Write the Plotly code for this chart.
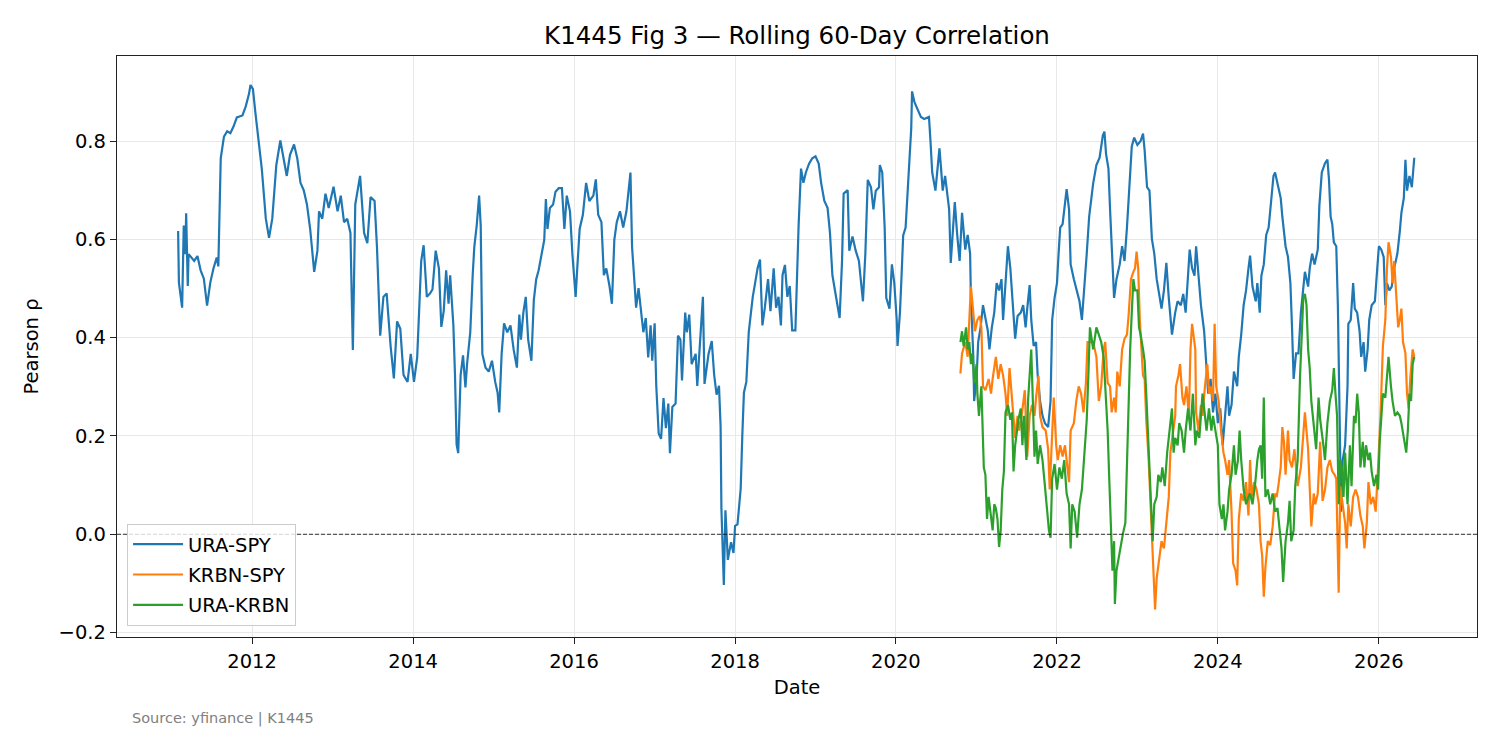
import numpy as np
import pandas as pd
import plotly.graph_objects as go

# ---------------- data (decimal year, correlation) ----------------
ura_spy_t = [
    2011.08, 2011.09, 2011.13, 2011.15, 2011.17, 2011.18, 2011.20, 2011.21, 2011.28, 2011.32,
    2011.36, 2011.40, 2011.44, 2011.48, 2011.52, 2011.56, 2011.58, 2011.61, 2011.65, 2011.69,
    2011.73, 2011.77, 2011.81, 2011.88, 2011.92, 2011.96, 2011.98, 2012.01, 2012.04, 2012.08,
    2012.12, 2012.17, 2012.21, 2012.25, 2012.30, 2012.35, 2012.39, 2012.43, 2012.47, 2012.52,
    2012.56, 2012.60, 2012.64, 2012.68, 2012.72, 2012.77, 2012.81, 2012.83, 2012.87, 2012.91,
    2012.95, 2013.01, 2013.06, 2013.10, 2013.14, 2013.18, 2013.22, 2013.25, 2013.28, 2013.32,
    2013.34, 2013.39, 2013.43, 2013.47, 2013.52, 2013.55, 2013.59, 2013.63, 2013.67, 2013.72,
    2013.76, 2013.80, 2013.84, 2013.88, 2013.93, 2013.97, 2014.01, 2014.05, 2014.07, 2014.10,
    2014.13, 2014.17, 2014.21, 2014.24, 2014.28, 2014.32, 2014.35, 2014.38, 2014.41, 2014.44,
    2014.46, 2014.50, 2014.52, 2014.54, 2014.56, 2014.59, 2014.62, 2014.65, 2014.67, 2014.71,
    2014.74, 2014.76, 2014.79, 2014.82, 2014.84, 2014.86, 2014.90, 2014.94, 2014.98, 2015.02,
    2015.05, 2015.07, 2015.10, 2015.13, 2015.17, 2015.21, 2015.25, 2015.29, 2015.32, 2015.34,
    2015.37, 2015.40, 2015.43, 2015.47, 2015.50, 2015.53, 2015.56, 2015.60, 2015.63, 2015.65,
    2015.67, 2015.70, 2015.74, 2015.77, 2015.81, 2015.85, 2015.88, 2015.91, 2015.95, 2015.98,
    2016.02, 2016.04, 2016.07, 2016.11, 2016.15, 2016.19, 2016.24, 2016.27, 2016.30, 2016.34,
    2016.37, 2016.40, 2016.44, 2016.47, 2016.50, 2016.53, 2016.57, 2016.61, 2016.65, 2016.70,
    2016.72, 2016.75, 2016.77, 2016.80, 2016.83, 2016.86, 2016.89, 2016.92, 2016.95, 2016.97,
    2017.00, 2017.02, 2017.05, 2017.08, 2017.11, 2017.14, 2017.17, 2017.19, 2017.22, 2017.26,
    2017.29, 2017.32, 2017.34, 2017.38, 2017.40, 2017.43, 2017.46, 2017.51, 2017.53, 2017.56,
    2017.60, 2017.62, 2017.67, 2017.71, 2017.74, 2017.77, 2017.80, 2017.82, 2017.83, 2017.86,
    2017.88, 2017.91, 2017.95, 2017.98, 2018.00, 2018.03, 2018.05, 2018.07, 2018.09, 2018.11,
    2018.14, 2018.17, 2018.19, 2018.22, 2018.25, 2018.28, 2018.31, 2018.34, 2018.37, 2018.41,
    2018.44, 2018.48, 2018.51, 2018.54, 2018.57, 2018.59, 2018.62, 2018.65, 2018.68, 2018.71,
    2018.75, 2018.77, 2018.79, 2018.82, 2018.85, 2018.88, 2018.92, 2018.96, 2019.00, 2019.04,
    2019.07, 2019.11, 2019.15, 2019.18, 2019.21, 2019.24, 2019.27, 2019.30, 2019.33, 2019.35,
    2019.40, 2019.42, 2019.46, 2019.50, 2019.54, 2019.59, 2019.62, 2019.65, 2019.69, 2019.72,
    2019.75, 2019.79, 2019.80, 2019.83, 2019.86, 2019.88, 2019.92, 2019.95, 2019.98, 2020.01,
    2020.02, 2020.05, 2020.07, 2020.09, 2020.12, 2020.14, 2020.16, 2020.19, 2020.20, 2020.23,
    2020.27, 2020.31, 2020.35, 2020.41, 2020.43, 2020.45, 2020.49, 2020.52, 2020.54, 2020.56,
    2020.58, 2020.61, 2020.64, 2020.66, 2020.68, 2020.71, 2020.73, 2020.76, 2020.79, 2020.82,
    2020.86, 2020.89, 2020.92, 2020.93, 2020.96, 2020.97, 2021.00, 2021.02, 2021.05, 2021.08,
    2021.11, 2021.14, 2021.16, 2021.19, 2021.22, 2021.25, 2021.28, 2021.31, 2021.33, 2021.36,
    2021.39, 2021.42, 2021.45, 2021.48, 2021.51, 2021.55, 2021.58, 2021.61, 2021.63, 2021.66,
    2021.68, 2021.71, 2021.74, 2021.76, 2021.79, 2021.82, 2021.85, 2021.89, 2021.92, 2021.94,
    2021.97, 2022.00, 2022.02, 2022.04, 2022.07, 2022.10, 2022.12, 2022.15, 2022.17, 2022.21,
    2022.25, 2022.28, 2022.31, 2022.34, 2022.37, 2022.40, 2022.45, 2022.49, 2022.53, 2022.57,
    2022.59, 2022.61, 2022.64, 2022.66, 2022.68, 2022.71, 2022.74, 2022.78, 2022.81, 2022.84,
    2022.87, 2022.90, 2022.93, 2022.96, 2023.00, 2023.04, 2023.07, 2023.09, 2023.12, 2023.15,
    2023.18, 2023.21, 2023.24, 2023.27, 2023.30, 2023.33, 2023.36, 2023.39, 2023.41, 2023.43,
    2023.47, 2023.50, 2023.54, 2023.57, 2023.60, 2023.62, 2023.65, 2023.68, 2023.71, 2023.73,
    2023.76, 2023.79, 2023.83, 2023.86, 2023.88, 2023.91, 2023.94, 2023.97, 2024.00, 2024.03,
    2024.06, 2024.09, 2024.12, 2024.14, 2024.17, 2024.20, 2024.24, 2024.26, 2024.29, 2024.32,
    2024.35, 2024.38, 2024.40, 2024.43, 2024.47, 2024.49, 2024.52, 2024.54, 2024.57, 2024.60,
    2024.63, 2024.66, 2024.69, 2024.71, 2024.75, 2024.78, 2024.80, 2024.84, 2024.87, 2024.90,
    2024.92, 2024.94, 2024.97, 2025.00, 2025.03, 2025.06, 2025.08, 2025.12, 2025.14, 2025.17,
    2025.20, 2025.24, 2025.26, 2025.29, 2025.33, 2025.36, 2025.38, 2025.40, 2025.42, 2025.44,
    2025.47, 2025.49, 2025.51, 2025.53, 2025.55, 2025.58, 2025.61, 2025.62, 2025.65, 2025.68,
    2025.70, 2025.73, 2025.76, 2025.78, 2025.81, 2025.83, 2025.86, 2025.88, 2025.91, 2025.95,
    2025.97, 2026.00, 2026.03, 2026.06, 2026.08, 2026.10, 2026.13, 2026.16, 2026.19, 2026.23,
    2026.26, 2026.28, 2026.31, 2026.33, 2026.35, 2026.38, 2026.41, 2026.44,
]
ura_spy_v = [
    0.617, 0.512, 0.461, 0.628, 0.570, 0.653, 0.505, 0.570, 0.556, 0.566,
    0.537, 0.520, 0.465, 0.512, 0.541, 0.563, 0.545, 0.765, 0.809, 0.820,
    0.816, 0.830, 0.848, 0.852, 0.870, 0.895, 0.914, 0.906, 0.859, 0.801,
    0.744, 0.642, 0.603, 0.642, 0.751, 0.801, 0.765, 0.729, 0.772, 0.793,
    0.765, 0.715, 0.700, 0.671, 0.621, 0.534, 0.577, 0.657, 0.642, 0.693,
    0.664, 0.707, 0.657, 0.689, 0.635, 0.642, 0.613, 0.375, 0.671, 0.707,
    0.729, 0.613, 0.592, 0.686, 0.678, 0.584, 0.404, 0.483, 0.490, 0.382,
    0.317, 0.433, 0.418, 0.324, 0.310, 0.367, 0.310, 0.360, 0.454, 0.556,
    0.588, 0.483, 0.490, 0.498, 0.577, 0.541, 0.422, 0.454, 0.537, 0.469,
    0.527, 0.425, 0.324, 0.183, 0.165, 0.324, 0.364, 0.299, 0.346, 0.411,
    0.527, 0.584, 0.628, 0.689, 0.628, 0.367, 0.339, 0.331, 0.353, 0.310,
    0.288, 0.248, 0.367, 0.429, 0.411, 0.425, 0.375, 0.339, 0.447, 0.396,
    0.451, 0.483, 0.396, 0.353, 0.476, 0.519, 0.537, 0.577, 0.599, 0.682,
    0.621, 0.664, 0.671, 0.697, 0.704, 0.704, 0.621, 0.689, 0.657, 0.570,
    0.483, 0.541, 0.621, 0.650, 0.715, 0.678, 0.689, 0.722, 0.650, 0.635,
    0.527, 0.541, 0.505, 0.469, 0.599, 0.635, 0.657, 0.624, 0.657, 0.736,
    0.584, 0.512, 0.461, 0.501, 0.454, 0.411, 0.440, 0.360, 0.425, 0.353,
    0.429, 0.302, 0.205, 0.194, 0.277, 0.216, 0.266, 0.165, 0.259, 0.266,
    0.404, 0.396, 0.313, 0.451, 0.411, 0.447, 0.346, 0.367, 0.302, 0.382,
    0.483, 0.306, 0.367, 0.393, 0.324, 0.284, 0.302, 0.219, 0.053, -0.103,
    0.049, -0.052, -0.016, -0.038, 0.017, 0.020, 0.064, 0.093, 0.201, 0.288,
    0.310, 0.411, 0.440, 0.483, 0.512, 0.541, 0.559, 0.425, 0.461, 0.519,
    0.454, 0.541, 0.461, 0.483, 0.425, 0.527, 0.548, 0.483, 0.505, 0.415,
    0.415, 0.534, 0.628, 0.744, 0.715, 0.736, 0.754, 0.765, 0.769, 0.754,
    0.715, 0.678, 0.664, 0.613, 0.527, 0.498, 0.469, 0.440, 0.556, 0.693,
    0.700, 0.577, 0.606, 0.577, 0.556, 0.474, 0.571, 0.721, 0.706, 0.661,
    0.699, 0.706, 0.751, 0.736, 0.624, 0.481, 0.459, 0.549, 0.511, 0.436,
    0.383, 0.451, 0.526, 0.608, 0.624, 0.676, 0.744, 0.826, 0.901, 0.879,
    0.864, 0.849, 0.845, 0.849, 0.796, 0.736, 0.699, 0.751, 0.785, 0.744,
    0.699, 0.729, 0.684, 0.661, 0.552, 0.639, 0.676, 0.609, 0.556, 0.654,
    0.579, 0.609, 0.571, 0.481, 0.361, 0.271, 0.316, 0.391, 0.421, 0.466,
    0.436, 0.414, 0.376, 0.421, 0.451, 0.511, 0.496, 0.519, 0.436, 0.519,
    0.586, 0.541, 0.459, 0.398, 0.444, 0.451, 0.466, 0.421, 0.459, 0.507,
    0.436, 0.383, 0.391, 0.323, 0.271, 0.241, 0.226, 0.218, 0.271, 0.436,
    0.481, 0.511, 0.571, 0.624, 0.631, 0.676, 0.702, 0.661, 0.549, 0.519,
    0.496, 0.474, 0.436, 0.496, 0.571, 0.646, 0.714, 0.751, 0.766, 0.811,
    0.819, 0.774, 0.744, 0.661, 0.579, 0.481, 0.519, 0.549, 0.586, 0.556,
    0.624, 0.714, 0.789, 0.807, 0.792, 0.800, 0.815, 0.781, 0.706, 0.699,
    0.601, 0.571, 0.519, 0.489, 0.459, 0.496, 0.552, 0.481, 0.436, 0.406,
    0.451, 0.474, 0.466, 0.489, 0.451, 0.496, 0.579, 0.541, 0.526, 0.586,
    0.526, 0.466, 0.413, 0.346, 0.286, 0.316, 0.248, 0.286, 0.226, 0.256,
    0.181, 0.241, 0.301, 0.241, 0.263, 0.331, 0.301, 0.361, 0.406, 0.466,
    0.496, 0.541, 0.567, 0.504, 0.474, 0.511, 0.451, 0.526, 0.549, 0.609,
    0.624, 0.676, 0.729, 0.736, 0.706, 0.684, 0.646, 0.586, 0.564, 0.511,
    0.421, 0.316, 0.368, 0.368, 0.451, 0.496, 0.534, 0.504, 0.541, 0.571,
    0.549, 0.579, 0.669, 0.736, 0.755, 0.762, 0.721, 0.646, 0.631, 0.594,
    0.586, 0.466, 0.286, 0.046, 0.151, 0.181, 0.301, 0.428, 0.436, 0.511,
    0.459, 0.451, 0.413, 0.361, 0.391, 0.331, 0.376, 0.436, 0.466, 0.474,
    0.519, 0.586, 0.579, 0.564, 0.466, 0.511, 0.496, 0.504, 0.541, 0.571,
    0.616, 0.654, 0.684, 0.762, 0.699, 0.729, 0.706, 0.766,
]

krbn_spy_t = [
    2020.80, 2020.82, 2020.86, 2020.89, 2020.91, 2020.93, 2020.96, 2020.98, 2021.01, 2021.04,
    2021.06, 2021.08, 2021.11, 2021.15, 2021.18, 2021.20, 2021.24, 2021.27, 2021.30, 2021.33,
    2021.36, 2021.38, 2021.41, 2021.43, 2021.45, 2021.48, 2021.51, 2021.53, 2021.56, 2021.60,
    2021.63, 2021.66, 2021.69, 2021.72, 2021.74, 2021.77, 2021.79, 2021.82, 2021.86, 2021.89,
    2021.91, 2021.94, 2021.96, 2021.99, 2022.01, 2022.04, 2022.07, 2022.10, 2022.13, 2022.15,
    2022.17, 2022.21, 2022.24, 2022.27, 2022.30, 2022.33, 2022.36, 2022.38, 2022.45, 2022.49,
    2022.52, 2022.55, 2022.58, 2022.60, 2022.63, 2022.66, 2022.68, 2022.71, 2022.73, 2022.75,
    2022.78, 2022.81, 2022.84, 2022.87, 2022.89, 2022.92, 2022.95, 2022.97, 2022.99, 2023.01,
    2023.03, 2023.05, 2023.07, 2023.09, 2023.11, 2023.14, 2023.16, 2023.18, 2023.20, 2023.22,
    2023.24, 2023.27, 2023.30, 2023.33, 2023.36, 2023.39, 2023.41, 2023.44, 2023.47, 2023.48,
    2023.51, 2023.53, 2023.56, 2023.58, 2023.61, 2023.64, 2023.66, 2023.68, 2023.72, 2023.73,
    2023.76, 2023.79, 2023.81, 2023.84, 2023.87, 2023.89, 2023.91, 2023.94, 2023.96, 2023.98,
    2024.01, 2024.04, 2024.07, 2024.09, 2024.12, 2024.14, 2024.17, 2024.19, 2024.22, 2024.24,
    2024.26, 2024.29, 2024.32, 2024.35, 2024.38, 2024.40, 2024.42, 2024.45, 2024.48, 2024.51,
    2024.53, 2024.55, 2024.57, 2024.59, 2024.62, 2024.65, 2024.68, 2024.71, 2024.73, 2024.75,
    2024.78, 2024.80, 2024.82, 2024.84, 2024.87, 2024.89, 2024.92, 2024.95, 2024.97, 2024.99,
    2025.03, 2025.06, 2025.08, 2025.12, 2025.14, 2025.16, 2025.19, 2025.21, 2025.24, 2025.27,
    2025.30, 2025.33, 2025.36, 2025.39, 2025.42, 2025.45, 2025.47, 2025.50, 2025.52, 2025.55,
    2025.58, 2025.60, 2025.62, 2025.65, 2025.68, 2025.71, 2025.74, 2025.77, 2025.80, 2025.82,
    2025.85, 2025.87, 2025.90, 2025.93, 2025.96, 2025.99, 2026.02, 2026.05, 2026.08, 2026.10,
    2026.12, 2026.15, 2026.17, 2026.19, 2026.21, 2026.24, 2026.26, 2026.28, 2026.30, 2026.33,
    2026.35, 2026.37, 2026.39, 2026.42, 2026.44,
]
krbn_spy_v = [
    0.327, 0.368, 0.391, 0.361, 0.436, 0.504, 0.451, 0.413, 0.436, 0.444,
    0.421, 0.301, 0.293, 0.316, 0.286, 0.316, 0.361, 0.316, 0.346, 0.323,
    0.286, 0.241, 0.338, 0.301, 0.248, 0.196, 0.241, 0.211, 0.241, 0.293,
    0.158, 0.241, 0.263, 0.241, 0.278, 0.323, 0.241, 0.218, 0.211, 0.173,
    0.091, 0.188, 0.278, 0.181, 0.151, 0.181, 0.158, 0.181, 0.136, 0.106,
    0.211, 0.226, 0.271, 0.301, 0.286, 0.248, 0.308, 0.391, 0.391, 0.361,
    0.271, 0.301, 0.376, 0.391, 0.308, 0.301, 0.248, 0.278, 0.248, 0.331,
    0.301, 0.376, 0.398, 0.406, 0.444, 0.519, 0.534, 0.541, 0.575, 0.541,
    0.436, 0.376, 0.323, 0.316, 0.233, 0.151, 0.076, 0.016, -0.074, -0.153,
    -0.089, -0.051, -0.014, -0.029, 0.031, 0.076, 0.166, 0.203, 0.241, 0.301,
    0.323, 0.346, 0.278, 0.263, 0.301, 0.241, 0.376, 0.428, 0.376, 0.248,
    0.211, 0.263, 0.241, 0.301, 0.346, 0.286, 0.301, 0.271, 0.428, 0.301,
    0.271, 0.211, 0.166, 0.151, 0.121, 0.151, 0.046, -0.059, -0.074, -0.104,
    0.031, 0.083, 0.068, 0.106, 0.038, 0.151, 0.076, 0.106, 0.091, 0.061,
    -0.014, -0.044, -0.127, -0.067, -0.014, -0.022, 0.016, 0.083, 0.076, 0.098,
    0.136, 0.218, 0.188, 0.121, 0.211, 0.151, 0.136, 0.173, 0.136, 0.098,
    0.136, 0.211, 0.248, 0.173, 0.091, 0.016, 0.083, 0.061, 0.083, 0.188,
    0.068, 0.091, 0.136, 0.151, 0.128, 0.121, 0.113, -0.119, 0.098, 0.061,
    0.023, -0.029, 0.061, 0.016, 0.076, 0.091, 0.076, 0.038, 0.016, -0.029,
    0.023, 0.106, 0.061, 0.076, 0.046, 0.136, 0.241, 0.383, 0.436, 0.541,
    0.594, 0.564, 0.511, 0.556, 0.496, 0.421, 0.436, 0.459, 0.391, 0.368,
    0.286, 0.256, 0.316, 0.376, 0.361,
]

ura_krbn_t = [
    2020.80, 2020.82, 2020.84, 2020.87, 2020.89, 2020.91, 2020.93, 2020.95, 2020.97, 2021.00,
    2021.01, 2021.03, 2021.06, 2021.07, 2021.09, 2021.11, 2021.13, 2021.15, 2021.18, 2021.20,
    2021.22, 2021.24, 2021.26, 2021.28, 2021.30, 2021.32, 2021.34, 2021.36, 2021.39, 2021.42,
    2021.44, 2021.46, 2021.48, 2021.52, 2021.55, 2021.57, 2021.59, 2021.62, 2021.64, 2021.66,
    2021.68, 2021.70, 2021.72, 2021.74, 2021.76, 2021.79, 2021.82, 2021.85, 2021.88, 2021.90,
    2021.92, 2021.94, 2021.97, 2022.00, 2022.03, 2022.06, 2022.09, 2022.12, 2022.15, 2022.17,
    2022.19, 2022.22, 2022.25, 2022.28, 2022.31, 2022.34, 2022.37, 2022.39, 2022.41, 2022.45,
    2022.49, 2022.52, 2022.55, 2022.58, 2022.60, 2022.63, 2022.65, 2022.67, 2022.69, 2022.71,
    2022.72, 2022.74, 2022.77, 2022.80, 2022.82, 2022.85, 2022.87, 2022.89, 2022.91, 2022.93,
    2022.95, 2022.97, 2023.00, 2023.02, 2023.04, 2023.07, 2023.09, 2023.11, 2023.13, 2023.15,
    2023.17, 2023.19, 2023.21, 2023.24, 2023.26, 2023.29, 2023.31, 2023.34, 2023.37, 2023.39,
    2023.43, 2023.45, 2023.47, 2023.50, 2023.52, 2023.55, 2023.58, 2023.60, 2023.63, 2023.66,
    2023.69, 2023.72, 2023.74, 2023.77, 2023.81, 2023.84, 2023.86, 2023.89, 2023.92, 2023.94,
    2023.97, 2024.00, 2024.02, 2024.05, 2024.07, 2024.09, 2024.12, 2024.14, 2024.17, 2024.20,
    2024.22, 2024.25, 2024.27, 2024.29, 2024.32, 2024.35, 2024.38, 2024.40, 2024.43, 2024.46,
    2024.49, 2024.51, 2024.53, 2024.55, 2024.57, 2024.59, 2024.62, 2024.65, 2024.68, 2024.71,
    2024.74, 2024.76, 2024.79, 2024.81, 2024.84, 2024.87, 2024.89, 2024.91, 2024.94, 2024.96,
    2024.99, 2025.02, 2025.04, 2025.06, 2025.08, 2025.10, 2025.12, 2025.14, 2025.16, 2025.20,
    2025.22, 2025.25, 2025.27, 2025.31, 2025.33, 2025.36, 2025.39, 2025.42, 2025.44, 2025.46,
    2025.48, 2025.50, 2025.52, 2025.54, 2025.56, 2025.58, 2025.61, 2025.64, 2025.66, 2025.69,
    2025.71, 2025.73, 2025.75, 2025.77, 2025.80, 2025.82, 2025.84, 2025.87, 2025.89, 2025.91,
    2025.94, 2025.97, 2025.99, 2026.01, 2026.03, 2026.05, 2026.08, 2026.10, 2026.12, 2026.15,
    2026.17, 2026.20, 2026.23, 2026.26, 2026.28, 2026.31, 2026.34, 2026.36, 2026.38, 2026.40,
    2026.42, 2026.44,
]
ura_krbn_v = [
    0.391, 0.413, 0.383, 0.421, 0.376, 0.391, 0.346, 0.368, 0.308, 0.346,
    0.286, 0.241, 0.301, 0.248, 0.136, 0.121, 0.031, 0.076, 0.038, 0.008,
    0.061, 0.053, 0.031, -0.026, 0.008, 0.091, 0.128, 0.248, 0.263, 0.233,
    0.248, 0.128, 0.181, 0.233, 0.256, 0.181, 0.241, 0.151, 0.271, 0.331,
    0.376, 0.271, 0.158, 0.211, 0.143, 0.181, 0.151, 0.098, 0.046, 0.008,
    -0.007, 0.113, 0.143, 0.091, 0.136, 0.113, 0.151, 0.083, 0.061, -0.029,
    0.061, 0.046, -0.007, 0.061, 0.091, 0.166, 0.233, 0.323, 0.421, 0.376,
    0.421, 0.406, 0.391, 0.361, 0.301, 0.211, 0.113, 0.023, -0.074, -0.014,
    -0.142, -0.074, -0.044, -0.014, 0.001, 0.023, 0.136, 0.286, 0.376, 0.451,
    0.519, 0.496, 0.496, 0.421, 0.406, 0.376, 0.353, 0.286, 0.218, 0.151,
    0.076, -0.014, 0.061, 0.076, 0.121, 0.106, 0.136, 0.098, 0.166, 0.196,
    0.256, 0.166, 0.196, 0.181, 0.226, 0.211, 0.166, 0.211, 0.256, 0.211,
    0.286, 0.181, 0.211, 0.196, 0.286, 0.241, 0.211, 0.256, 0.211, 0.241,
    0.211, 0.181, 0.061, 0.031, 0.061, 0.008, 0.046, 0.091, 0.121, 0.181,
    0.121, 0.151, 0.211, 0.151, 0.091, 0.061, 0.076, 0.083, 0.061, 0.098,
    0.151, 0.173, 0.181, 0.113, 0.278, 0.076, 0.091, 0.061, 0.083, 0.046,
    0.053, 0.023, -0.029, -0.097, -0.014, 0.023, 0.068, -0.014, 0.008, 0.098,
    0.151, 0.323, 0.398, 0.481, 0.489, 0.466, 0.376, 0.338, 0.271, 0.196,
    0.173, 0.278, 0.233, 0.181, 0.151, 0.226, 0.271, 0.293, 0.338, 0.286,
    0.241, 0.061, 0.151, 0.136, 0.076, 0.166, 0.061, 0.181, 0.098, 0.241,
    0.226, 0.286, 0.248, 0.136, 0.188, 0.136, 0.181, 0.151, 0.166, 0.128,
    0.098, 0.121, 0.091, 0.188, 0.241, 0.286, 0.278, 0.323, 0.361, 0.301,
    0.271, 0.241, 0.248, 0.241, 0.226, 0.196, 0.166, 0.211, 0.286, 0.271,
    0.346, 0.361,
]

series_names = ["URA-SPY", "KRBN-SPY", "URA-KRBN"]
series_colors = ["#1f77b4", "#ff7f0e", "#2ca02c"]

y_tick_vals = [-0.2, 0.0, 0.2, 0.4, 0.6, 0.8]
y_tick_text = ["\u22120.2", "0.0", "0.2", "0.4", "0.6", "0.8"]
x_range_years = [2010.32, 2027.22]
y_range = [-0.209, 0.973]


def to_dates(years):
    out = []
    for y in years:
        yr = int(np.floor(y))
        start = pd.Timestamp(year=yr, month=1, day=1)
        end = pd.Timestamp(year=yr + 1, month=1, day=1)
        out.append(start + (end - start) * (y - yr))
    return out


fig = go.Figure()
for name, color, t, v in zip(
    series_names,
    series_colors,
    [ura_spy_t, krbn_spy_t, ura_krbn_t],
    [ura_spy_v, krbn_spy_v, ura_krbn_v],
):
    fig.add_trace(
        go.Scatter(
            x=to_dates(t), y=v, mode="lines", name=name, legendgroup=name,
            line=dict(color=color, width=2.2),
        )
    )

# zero reference line
fig.add_shape(
    type="line", xref="paper", yref="y", x0=0, x1=1, y0=0, y1=0,
    line=dict(color="black", width=0.8, dash="4px,2px"), layer="above",
)

axis_common = dict(
    showgrid=True, gridcolor="#e8e8e8", gridwidth=1.2,
    showline=True, linecolor="#222222", linewidth=1.3, mirror=True,
    ticks="outside", ticklen=6, tickcolor="#222222", tickwidth=1.3,
    zeroline=False, tickfont=dict(size=19.5, color="black"),
)

xr = to_dates(x_range_years)
fig.update_layout(
    width=1500, height=750,
    margin=dict(l=117, r=23, t=56, b=113),
    paper_bgcolor="white", plot_bgcolor="white",
    font=dict(family="DejaVu Sans", size=19.5, color="black"),
    title=dict(
        text="K1445 Fig 3 \u2014 Rolling 60-Day Correlation",
        x=(117 + 1360 / 2) / 1500, xanchor="center",
        y=1 - 35 / 750, yanchor="middle",
        font=dict(size=24.5, color="black"),
    ),
    xaxis=dict(
        type="date", range=xr, tick0="2012-01-01", dtick="M24", tickformat="%Y",
        title=dict(text="Date", standoff=8, font=dict(size=19.5)),
        **axis_common,
    ),
    yaxis=dict(
        range=y_range, tickvals=y_tick_vals, ticktext=y_tick_text,
        title=dict(text="Pearson \u03c1", standoff=14, font=dict(size=19.5)),
        **axis_common,
    ),
    legend=dict(
        x=0.0074, y=0.019, xanchor="left", yanchor="bottom",
        bgcolor="rgba(255,255,255,0.8)", bordercolor="#cccccc", borderwidth=1,
        font=dict(size=19.5, color="black"), itemwidth=50, tracegroupgap=2,
    ),
    showlegend=True,
)

fig.add_annotation(
    text="Source: yfinance | K1445", xref="paper", yref="paper",
    x=(130 - 117) / 1360, y=(637 - 718) / 581, xanchor="left", yanchor="middle",
    showarrow=False, font=dict(size=14.5, color="#808080"),
)

fig.write_html("out.html", post_script="document.body.style.margin='0';")
